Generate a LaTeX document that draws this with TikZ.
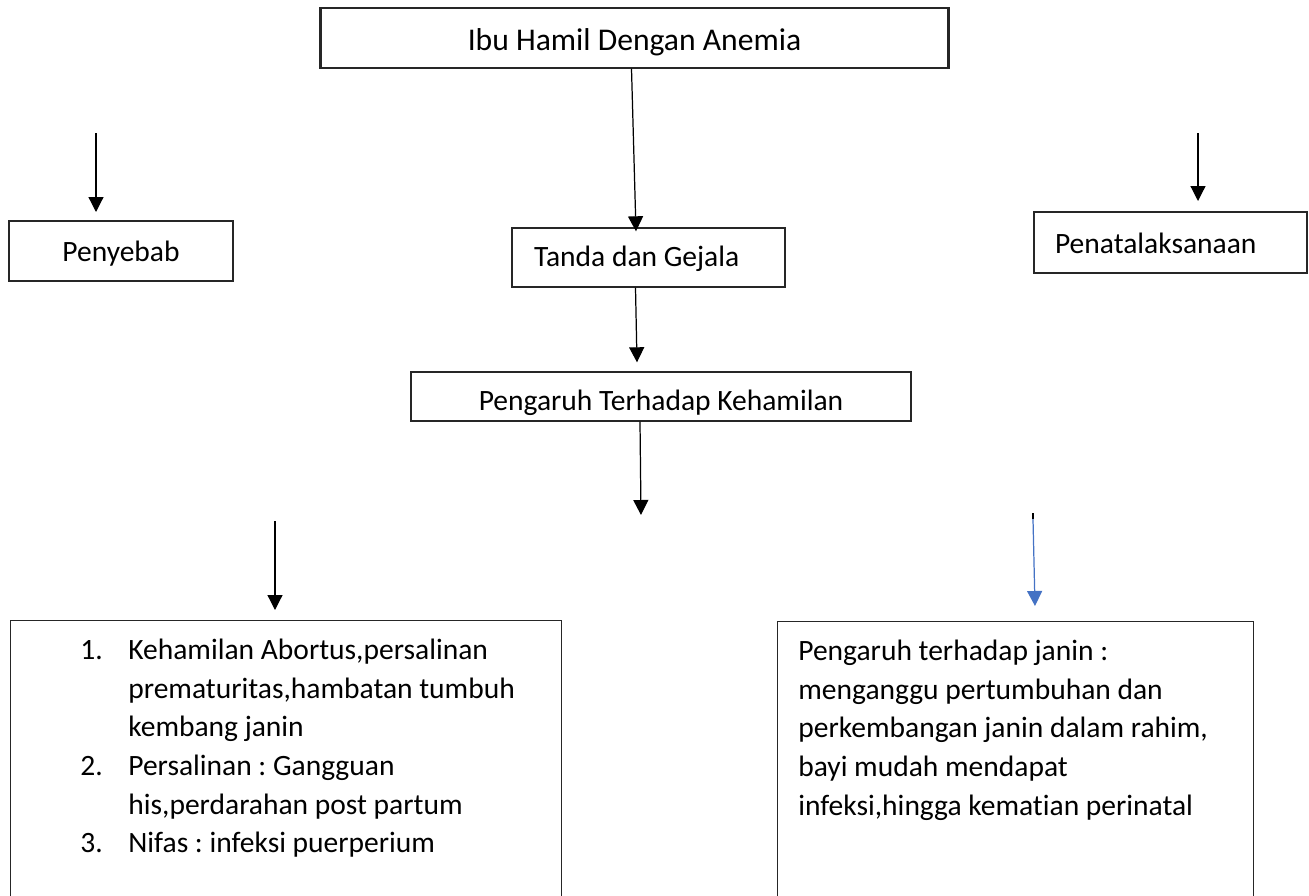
\documentclass[tikz,border=0pt]{standalone}
\usepackage{fontspec}
\setmainfont{Carlito}[Ligatures=NoCommon]
\usetikzlibrary{arrows.meta,positioning,calc}
\definecolor{panahbiru}{HTML}{4472C4}
\definecolor{garis}{HTML}{262626}
\newcommand{\hurufkotak}{\fontsize{16.8}{22}\selectfont\frenchspacing}
\newcommand{\hurufjudul}{\fontsize{18}{22}\selectfont}

\tikzset{
	kotak/.style={draw=garis, line width=0.8pt, inner sep=0pt, text depth=0pt, font=\hurufkotak},
	isi/.style={inner sep=0pt, anchor=base west, font=\hurufkotak},
	panah/.style={-{Triangle[length=0.3cm,width=0.3cm]}, line width=0.7pt},
}

\begin{document}
\begin{tikzpicture}[x=0.02cm, y=-0.02cm]
	\useasboundingbox (0,0) rectangle (1309,896);
	\clip (0,0) rectangle (1309,896);

	% kotak-kotak utama
	\node[kotak, font=\hurufjudul, text height=0.52cm, minimum width=12.54cm, minimum height=1.2cm] (ibu) at (634.5,38) {Ibu Hamil Dengan Anemia};
	\draw[garis, line width=1.9pt] (ibu.north west) -- (ibu.south west);
	\draw[garis, line width=1.9pt] (ibu.north east) -- (ibu.south east);

	\node[kotak, text height=0.40cm, minimum width=4.48cm, minimum height=1.2cm] (sebab) at (121,251) {Penyebab};
	\node[kotak, text height=0.36cm, inner xsep=0.44cm, minimum height=1.18cm] (tanda) at (648.5,257.5) {\makebox[4.58cm][l]{Tanda dan Gejala}};
	\node[kotak, text height=0.44cm, inner xsep=0.42cm, minimum height=1.22cm] (tata) at (1170.5,242.5) {\makebox[4.62cm][l]{Penatalaksanaan}};
	\node[kotak, text height=0.56cm, minimum width=10cm, minimum height=0.98cm] (pengaruh) at (661,396.5) {Pengaruh Terhadap Kehamilan};

	% kotak bawah (terpotong di tepi bawah)
	\node[kotak, minimum width=11.02cm, minimum height=6cm, anchor=north west] (kiri) at (10,620) {};
	\node[kotak, minimum width=9.52cm, minimum height=6cm, anchor=north west] (kanan) at (777,621) {};

	\node[isi] (daftar) at (80,659.5) {\begin{tabular}[t]{@{}p{0.96cm}@{}l@{}}
		1. & Kehamilan Abortus,persalinan\\
		   & prematuritas,hambatan tumbuh\\
		   & kembang janin\\
		2. & Persalinan : Gangguan\\
		   & his,perdarahan post partum\\
		3. & Nifas : infeksi puerperium
	\end{tabular}};
	\node[isi] (janin) at (798,660.5) {\begin{tabular}[t]{@{}l@{}}
		Pengaruh terhadap janin :\\
		menganggu pertumbuhan dan\\
		perkembangan janin dalam rahim,\\
		bayi mudah mendapat\\
		infeksi,hingga kematian perinatal
	\end{tabular}};

	% ujung panah yang lepas
	\coordinate (sebab1) at (96,133);
	\coordinate (sebab2) at (96,212);
	\coordinate (tata1) at (1198,133);
	\coordinate (tata2) at (1198,201);
	\coordinate (bawah) at (641,515);
	\coordinate (kiri1) at (275,521);
	\coordinate (kiri2) at (275,610);
	\coordinate (kanan0) at (1033,513);
	\coordinate (kanan1) at (1033,519);
	\coordinate (kanan2) at (1035,606);

	% panah
	\draw[panah] (sebab1) -- (sebab2);
	\draw[panah] (tata1) -- (tata2);
	\draw[panah] ($(ibu.south)+(-3,0)$) -- ($(tanda.north)+(-12.5,4)$);
	\draw[panah] ($(tanda.south)+(-13,0)$) -- ($(pengaruh.north)+(-24,-9)$);
	\draw[panah] ($(pengaruh.south)+(-21,0)$) -- (bawah);
	\draw[panah] (kiri1) -- (kiri2);
	\draw[line width=1pt] (kanan0) -- (kanan1);
	\draw[panah, panahbiru] (kanan1) -- (kanan2);
\end{tikzpicture}
\end{document}
